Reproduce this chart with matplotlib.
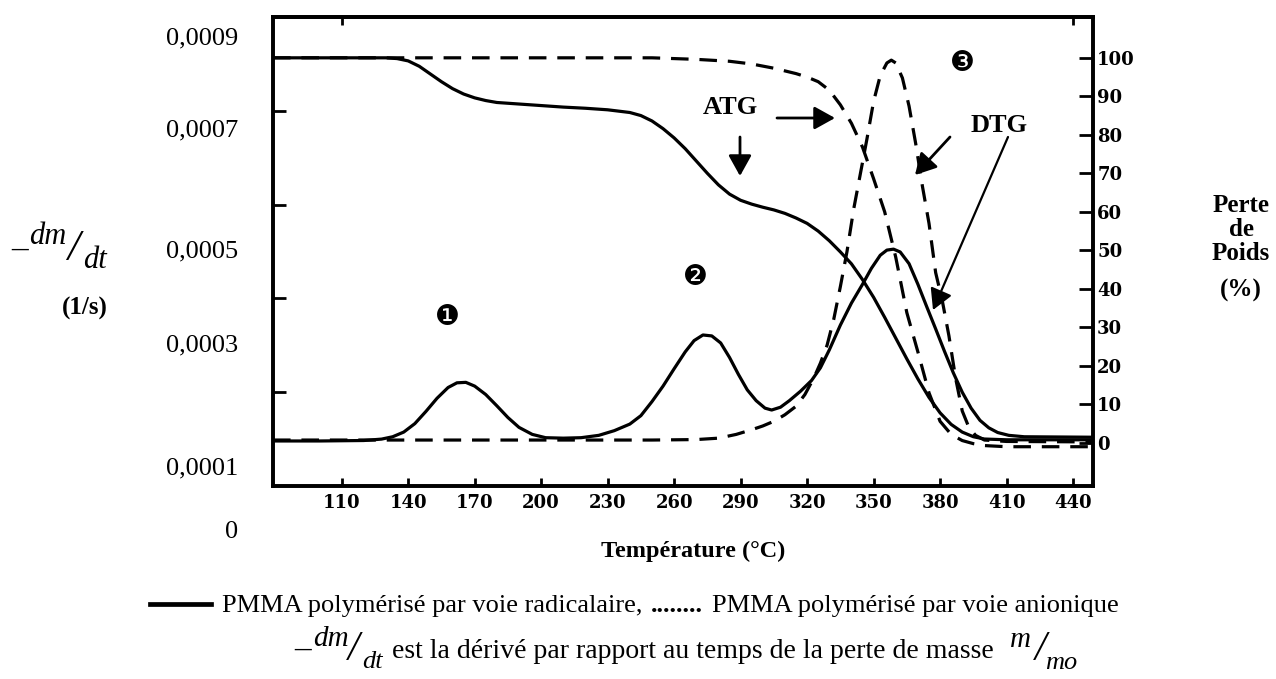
import matplotlib.pyplot as plt

W, H = 1276, 679

# ATG : perte de poids (%) en fonction de la température (°C)
atg_rad_t = [79, 100, 120, 130, 135, 140, 145, 150, 155, 160, 165, 170, 175, 180, 190,
             200, 210, 220, 230, 240, 245, 250, 255, 260, 265, 270, 275, 280, 285, 290,
             295, 300, 305, 310, 315, 320, 325, 330, 335, 340, 345, 350, 355, 360, 365,
             370, 375, 380, 385, 390, 395, 400, 410, 449]
atg_rad_p = [100, 100, 100, 100, 99.8, 99.2, 97.8, 95.8, 93.8, 92.0, 90.6, 89.6, 88.9, 88.4, 88.0,
             87.6, 87.2, 86.9, 86.5, 85.8, 85.0, 83.6, 81.6, 79.2, 76.4, 73.2, 70.0, 67.0, 64.6, 63.0,
             62.0, 61.2, 60.5, 59.6, 58.4, 57.0, 55.0, 52.5, 49.6, 46.5, 42.4, 37.8, 32.6, 27.2, 21.8,
             16.6, 11.8, 7.8, 4.8, 2.8, 1.6, 1.0, 0.8, 0.8]

atg_ani_t = [79, 150, 200, 250, 270, 285, 295, 305, 315, 320, 325, 330, 335, 340, 345,
             350, 355, 360, 365, 370, 375, 380, 385, 390, 395, 400, 410, 449]
atg_ani_p = [100, 100, 100, 100, 99.6, 99.1, 98.4, 97.3, 95.9, 95.0, 93.8, 91.6, 87.8, 83.0, 76.8,
             68.6, 60.0, 48.2, 33.8, 23.6, 13.0, 5.6, 2.2, 0.6, -0.2, -0.7, -1.0, -1.0]

# DTG : -dm/dt (x 1e-4 1/s)
dtg_rad_t = [79, 100, 120, 128, 133, 138, 143, 148, 153, 158, 162, 166, 170, 175, 180,
             185, 190, 196, 202, 210, 218, 226, 233, 240, 245, 250, 255, 260, 265, 269,
             273, 277, 281, 285, 289, 293, 297, 301, 304, 308, 312, 317, 322, 326, 330,
             335, 340, 345, 349, 353, 356, 359, 362, 366, 370, 374, 378, 382, 386, 390,
             394, 398, 402, 406, 411, 418, 449]
dtg_rad_v = [0.96, 0.96, 0.97, 1.00, 1.05, 1.15, 1.33, 1.59, 1.87, 2.10, 2.20, 2.21, 2.13, 1.95, 1.71,
             1.46, 1.25, 1.10, 1.03, 1.02, 1.03, 1.08, 1.18, 1.32, 1.50, 1.80, 2.13, 2.50, 2.86, 3.10,
             3.22, 3.20, 3.05, 2.74, 2.38, 2.05, 1.82, 1.66, 1.62, 1.68, 1.82, 2.02, 2.25, 2.52, 2.90,
             3.43, 3.90, 4.30, 4.64, 4.92, 5.03, 5.05, 4.99, 4.74, 4.30, 3.82, 3.35, 2.87, 2.41, 2.00,
             1.66, 1.40, 1.24, 1.14, 1.08, 1.05, 1.04]

dtg_ani_t = [79, 150, 200, 250, 270, 280, 288, 295, 300, 305, 310, 315, 319, 323, 326,
             329, 332, 335, 338, 341, 344, 347, 350, 353, 356, 358, 360, 363, 366, 369,
             372, 375, 378, 381, 384, 387, 390, 393, 396, 400, 410, 449]
dtg_ani_v = [0.98, 0.98, 0.98, 0.98, 0.99, 1.02, 1.10, 1.20, 1.28, 1.38, 1.52, 1.70, 1.95, 2.30, 2.62,
             3.00, 3.55, 4.25, 5.00, 5.90, 6.65, 7.40, 8.20, 8.75, 9.02, 9.08, 9.02, 8.70, 8.10, 7.30,
             6.40, 5.60, 4.55, 3.95, 3.20, 2.30, 1.60, 1.25, 1.08, 0.98, 0.95, 0.94]

temp_ticks = [110, 140, 170, 200, 230, 260, 290, 320, 350, 380, 410, 440]
perte_ticks = [0, 10, 20, 30, 40, 50, 60, 70, 80, 90, 100]
dtg_labels = ["0,0009", "0,0007", "0,0005", "0,0003", "0,0001", "0"]

plt.rcParams["font.family"] = ["Liberation Serif", "DejaVu Serif"]

fig = plt.figure(figsize=(W / 100, H / 100), dpi=100)
L, R, T, B = 273, 1093, 17, 486
ax = fig.add_axes([L / W, 1 - B / H, (R - L) / W, (B - T) / H])
ax2 = ax.twinx()
renderer = fig.canvas.get_renderer()


def px(x, y):
    return (x, H - y)


def ftext(x, y, s, **kw):
    kw.setdefault("ha", "center")
    kw.setdefault("va", "center")
    return fig.text(x / W, 1 - y / H, s, **kw)


def run_of_texts(x, y, pieces, gap=7):
    # place plusieurs morceaux de texte à la suite, de gauche à droite
    for s, kw in pieces:
        t = ftext(x, y, s, ha="left", **kw)
        x += t.get_window_extent(renderer).width + gap
    return x


lw = 2.3
dash = (5.5, 3.4)
ax.plot(dtg_rad_t, dtg_rad_v, color="black", lw=lw, solid_capstyle="round")
ax.plot(dtg_ani_t, dtg_ani_v, color="black", lw=lw, dashes=dash)
ax2.plot(atg_rad_t, atg_rad_p, color="black", lw=lw, solid_capstyle="round")
ax2.plot(atg_ani_t, atg_ani_p, color="black", lw=lw, dashes=dash)

ax.set_xlim(79, 449)
ax.set_ylim(0, 10)
ax2.set_ylim(-11.2, 110.6)

for a in (ax, ax2):
    for sp in a.spines.values():
        sp.set_linewidth(2.6)

ax.set_yticks([2, 4, 6, 8])
ax.set_yticklabels([])
ax.tick_params(axis="y", direction="in", length=9, width=2)
ax.set_xticks(temp_ticks)
ax.set_xticklabels([str(t) for t in temp_ticks], fontfamily="DejaVu Serif",
                   fontweight="bold", fontsize=13)
ax.tick_params(axis="x", direction="in", length=6, width=2, pad=6)

top = ax.secondary_xaxis("top")
top.set_xticks([temp_ticks[0], temp_ticks[-1]])
top.set_xticklabels([])
top.tick_params(direction="in", length=6, width=2)
top.spines["top"].set_linewidth(2.6)

ax2.set_yticks(perte_ticks)
ax2.set_yticklabels([str(p) for p in perte_ticks], fontfamily="DejaVu Serif",
                    fontweight="bold", fontsize=13)
ax2.tick_params(axis="y", direction="in", length=10, width=2, pad=3)

# libellés de l'axe gauche (placés comme sur l'original scanné)
for lab, y in zip(dtg_labels, [38, 130, 251, 345, 468, 532]):
    ftext(238, y, lab, ha="right", fontsize=19)

# titre de l'axe gauche : - dm/dt (1/s)
ftext(20, 249, "\u2013", fontsize=24)
ftext(48, 237, "dm", fontsize=22, style="italic")
ftext(73, 249, "/", fontsize=32, style="italic")
ftext(95, 261, "dt", fontsize=22, style="italic")
ftext(85, 308, "(1/s)", fontsize=18, fontweight="bold")

# titre de l'axe droit
for s, y in zip(["Perte", "de", "Poids", "(%)"], [205, 229, 254, 290]):
    ftext(1241, y, s, fontsize=18, fontweight="bold")

ftext(693, 551, "Température (°C)", fontsize=17.5, fontweight="bold")

# annotations
arrow = dict(arrowstyle="-|>,head_length=0.9,head_width=0.5", color="black",
             lw=2, mutation_scale=14, shrinkA=0, shrinkB=0)
ftext(730, 108, "ATG", fontsize=19, fontweight="bold")
ax.annotate("", xy=px(835, 118), xytext=px(777, 118), xycoords="figure pixels",
            textcoords="figure pixels", arrowprops=arrow)
ax.annotate("", xy=px(740, 176), xytext=px(740, 137), xycoords="figure pixels",
            textcoords="figure pixels", arrowprops=arrow)
ftext(999, 125, "DTG", fontsize=19, fontweight="bold")
ax.annotate("", xy=px(915, 175), xytext=px(950, 137), xycoords="figure pixels",
            textcoords="figure pixels", arrowprops=arrow)
ax.annotate("", xy=px(933, 310), xytext=px(1008, 137), xycoords="figure pixels",
            textcoords="figure pixels",
            arrowprops=dict(arrow, lw=1.6))

for s, (x, y) in zip(["\u2776", "\u2777", "\u2778"], [(447, 317), (695, 277), (962, 63)]):
    ftext(x, y, s, fontsize=20, fontfamily="DejaVu Sans")

# légende sous le graphique
fig.add_artist(plt.Line2D([150 / W, 211 / W], [1 - 604 / H, 1 - 604 / H],
                          color="black", lw=3.4, transform=fig.transFigure))
run_of_texts(222, 606, [
    ("PMMA polymérisé par voie radicalaire,", dict(fontsize=19)),
    ("........", dict(fontsize=19, fontweight="bold")),
    ("PMMA polymérisé par voie anionique", dict(fontsize=19)),
], gap=9)

ftext(303, 650, "\u2013", fontsize=24)
ftext(331, 639, "dm", fontsize=21, style="italic")
ftext(354, 650, "/", fontsize=30, style="italic")
ftext(373, 662, "dt", fontsize=19, style="italic")
ftext(392, 652, "est la dérivé par rapport au temps de la perte de masse", ha="left", fontsize=20)
ftext(1020, 640, "m", fontsize=21, style="italic")
ftext(1041, 650, "/", fontsize=30, style="italic")
ftext(1061, 663, "mo", fontsize=19, style="italic")

fig.savefig("out.png", dpi=100)
